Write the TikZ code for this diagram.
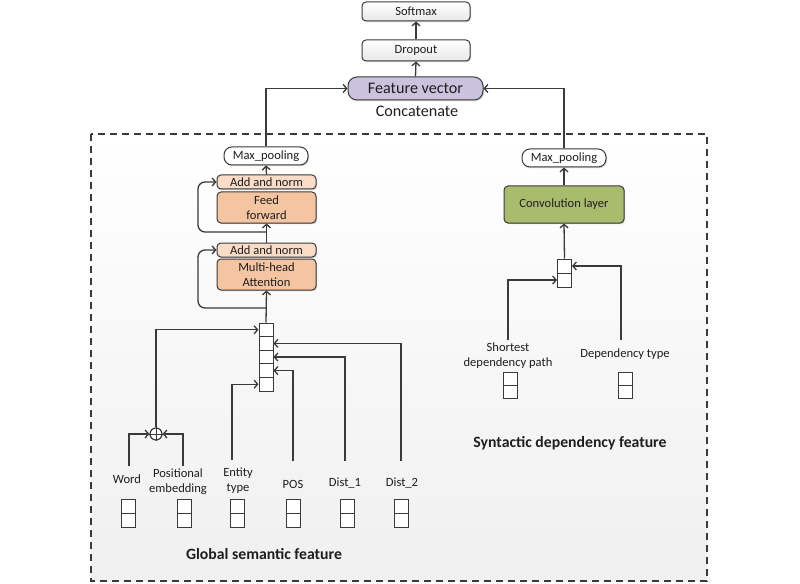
\documentclass[tikz,border=0pt]{standalone}
\usepackage{fontspec}
\setmainfont{Carlito}
\usetikzlibrary{arrows.meta,shadows}
\definecolor{ln}{HTML}{3A3A3A}
\definecolor{txt}{HTML}{1E1E1E}
\definecolor{fvfill}{HTML}{CBC2DE}
\definecolor{anfill}{HTML}{FBDCC6}
\definecolor{fffill}{HTML}{F5C5A1}
\definecolor{convfill}{HTML}{A9BC6E}
\begin{document}
\begin{tikzpicture}[x=1bp,y=-1bp,
  every node/.style={text=txt, font=\fontsize{12.6}{15}\selectfont},
  arr/.style={draw=ln, line width=1.3bp, -{Straight Barb[length=3.5bp,width=8bp]}},
  wire/.style={draw=ln, line width=1.3bp},
  shad/.style={drop shadow={shadow xshift=1bp,shadow yshift=-1.2bp,opacity=.3,fill=black!60}},
  topbox/.style={draw=ln, line width=1bp, rounded corners=4bp, top color=white, bottom color=black!9, minimum width=108bp, inner sep=0pt, shad},
  poolbox/.style={draw=ln, line width=1bp, rounded corners=8bp, fill=white, minimum width=84bp, minimum height=18bp, inner sep=0pt, shad},
  anbox/.style={draw=ln, line width=1bp, rounded corners=4bp, fill=anfill, minimum width=99bp, minimum height=14bp, inner sep=0pt, shad},
  ffbox/.style={draw=ln, line width=1bp, rounded corners=4bp, fill=fffill, minimum width=99bp, minimum height=31bp, inner sep=0pt, align=center, shad},
  cell/.style={draw=ln, line width=1bp, fill=white, minimum width=14bp, inner sep=0pt},
  lab/.style={align=center, inner sep=0pt},
  bold/.style={font=\fontsize{15.8}{17}\selectfont\bfseries, inner sep=0pt}
]
\useasboundingbox (0,0) rectangle (800,584);
% dashed region
\shade[top color=white, bottom color=black!6] (91,134) rectangle (707,581);
\draw[ln, line width=1.3bp, dash pattern=on 7bp off 5bp] (91,134) rectangle (707,581);

% top
\node[topbox, minimum height=19bp] (softmax) at (416,11.5) {Softmax};
\node[topbox, minimum height=21bp] (dropout) at (416,50.5) {Dropout};
\node[draw=ln, line width=1bp, rounded corners=9bp, fill=fvfill, minimum width=135bp, minimum height=23bp, inner sep=0pt, font=\fontsize{16.2}{18}\selectfont, shad] (fv) at (415.5,88.5) {Feature vector};
\node[inner sep=0pt, font=\fontsize{16.2}{18}\selectfont] (concat) at (417,111) {Concatenate};
\draw[arr] (dropout.north) -- (softmax.south);
\draw[arr] (fv.north) -- (dropout.south);

% left branch
\node[poolbox] (mp1) at (266,156) {Max\_pooling};
\node[anbox] (an1) at (266.5,182) {Add and norm};
\node[ffbox] (ff) at (266.5,207.5) {Feed\\forward};
\node[anbox] (an2) at (266.5,250) {Add and norm};
\node[ffbox] (mha) at (266.5,274.5) {Multi-head\\Attention};
\draw[arr] (mp1.north) |- (fv.west);
\draw[arr] (an1.north) -- (mp1.south);
\draw[arr] (an2.north) -- (ff.south);
\coordinate (j1) at (266.5,232);
\coordinate (j2) at (266.5,308);
\draw[arr, rounded corners=7bp] (j1) -- ++(-68.5,0) |- (an1.west);
\draw[arr, rounded corners=7bp] (j2) -- ++(-68.5,0) |- (an2.west);

% stacked vector
\foreach \i/\yy in {1/329.8,2/343.4,3/357.0,4/370.6,5/384.2}
  \node[cell, minimum height=13.6bp] (c\i) at (266,\yy) {};
\draw[arr] (c1.north) -- (mha.south);

% circle plus
\node[circle, draw=ln, line width=1.2bp, fill=white, minimum size=12bp, inner sep=0pt] (op) at (156,434) {};
\draw[ln, line width=1bp] (op.north) -- (op.south) (op.west) -- (op.east);

% inputs
\coordinate (w0) at (129,466);
\coordinate (p0) at (183,466);
\coordinate (e0) at (232,460);
\coordinate (s0) at (293,461);
\coordinate (d10) at (345,461);
\coordinate (d20) at (401,461);
\draw[arr] (w0) |- (op.west);
\draw[arr] (p0) |- (op.east);
\draw[arr] (op.north) |- (c1.west);
\draw[arr] (e0) |- (c5.west);
\draw[arr] (s0) |- (c4.east);
\draw[arr] (d10) |- (c3.east);
\draw[arr] (d20) |- (c2.east);

\node[lab] (lw) at (127,479) {Word};
\node[lab] (lp) at (178,481.5) {Positional\\embedding};
\node[lab] (le) at (238,480.5) {Entity\\type};
\node[lab] (ls) at (293,484) {POS};
\node[lab] (ld1) at (345,483) {Dist\_1};
\node[lab] (ld2) at (402,483) {Dist\_2};

\foreach \n/\xx in {a/128,b/184,c/237,d/293,e/347,f/401}{
  \node[cell, minimum height=14bp] (v\n1) at (\xx,506) {};
  \node[cell, minimum height=14bp] (v\n2) at (\xx,520) {};
}
\node[bold] (gsf) at (264,554) {Global semantic feature};

% right branch
\node[poolbox] (mp2) at (564,158) {Max\_pooling};
\node[draw=ln, line width=1bp, rounded corners=4bp, fill=convfill, minimum width=120bp, minimum height=37bp, inner sep=0pt, shad] (conv) at (564,204.5) {Convolution layer};
\draw[arr] (mp2.north) |- (fv.east);
\draw[arr] (conv.north) -- (mp2.south);
\node[cell, minimum height=14bp] (r1) at (564.5,266) {};
\node[cell, minimum height=14bp] (r2) at (564.5,280) {};
\draw[arr] (r1.north) -- (conv.south);
\coordinate (sp0) at (508,340);
\coordinate (dt0) at (621,340);
\draw[arr] (sp0) |- (r2.west);
\draw[arr] (dt0) |- (r1.east);
\node[lab] (lsp) at (508,355.5) {Shortest\\dependency path};
\node[lab] (ldt) at (625,354) {Dependency type};
\foreach \n/\xx in {g/510,h/625}{
  \node[cell, minimum height=13bp] (v\n1) at (\xx,378.5) {};
  \node[cell, minimum height=13bp] (v\n2) at (\xx,391.5) {};
}
\node[bold] (sdf) at (570,443) {Syntactic dependency feature};
\end{tikzpicture}
\end{document}
